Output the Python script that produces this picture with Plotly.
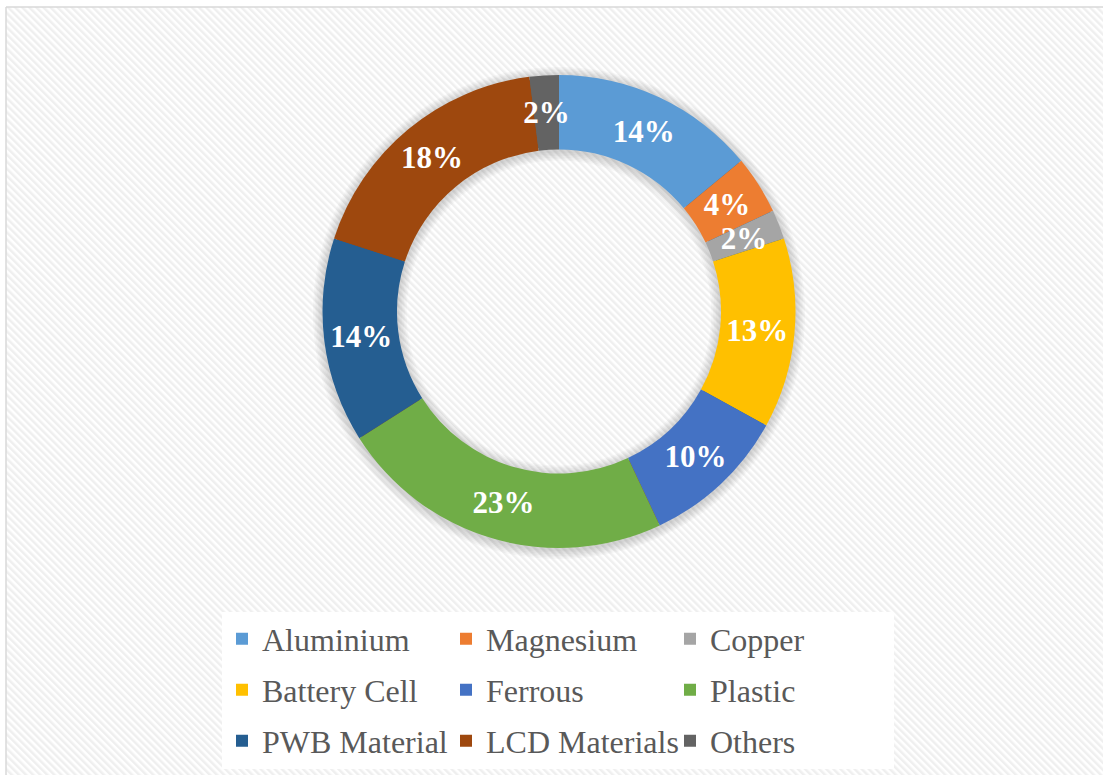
import base64
import plotly.graph_objects as go

# Material composition shares (percent)
materials = ["Aluminium", "Magnesium", "Copper", "Battery Cell", "Ferrous",
             "Plastic", "PWB Material", "LCD Materials", "Others"]
shares = [14, 4, 2, 13, 10, 23, 14, 18, 2]
colors = ["#5B9BD5", "#ED7D31", "#A5A5A5", "#FFC000", "#4472C4",
          "#70AD47", "#255E91", "#9E480E", "#636363"]

W, H = 1103, 775
ML, PW = 222, 700          # left margin and plot-area width (px)
CX, CY = 559, 311.5        # donut centre (px)
R_OUT, R_IN = 236.5, 162   # donut radii (px)
R_MID = 199                # radius where the percentage labels sit (px)
R_LBL = 210                # outer radius of the thin label ring (px)
WIDE = 10                  # slices at least this big hold their own label

LABEL_FONT = dict(family="Liberation Serif", size=31, color="white", weight="bold")


def px_x(v):
    return (v - ML) / PW


def px_y(v):
    return 1 - v / H


def domain(r, cx=CX, cy=CY):
    return dict(x=[px_x(cx - r), px_x(cx + r)], y=[px_y(cy + r), px_y(cy - r)])


pct = [f"{v}%" for v in shares]
wide_text = [t if v >= WIDE else "" for t, v in zip(pct, shares)]
narrow_text = [t if v < WIDE else "" for t, v in zip(pct, shares)]

fig = go.Figure()

# soft shadow around the ring, built from faint concentric rings
for k in range(1, 7):
    d = 1.6 * k
    ro, ri = R_OUT + d, R_IN - d
    fig.add_trace(go.Pie(
        values=[1], labels=[" "], hole=ri / ro, domain=domain(ro, cy=CY + 1.5),
        marker=dict(colors=["rgba(0,0,0,0.028)"], line=dict(width=0)),
        textinfo="none", hoverinfo="skip", showlegend=False, sort=False,
    ))

# legend rows: three slices per row, each row in its own legend,
# drawn slightly inside the main ring so the donut hides them
rows = ["legend", "legend2", "legend3"]
for i, leg in enumerate(rows):
    sl = slice(3 * i, 3 * i + 3)
    fig.add_trace(go.Pie(
        labels=materials[sl], values=shares[sl], legend=leg,
        hole=(R_IN + 3) / (R_OUT - 3), domain=domain(R_OUT - 3),
        sort=False, direction="clockwise",
        marker=dict(colors=colors[sl], line=dict(width=0)),
        textinfo="none", hoverinfo="skip",
    ))

# main donut with labels for the wide slices
fig.add_trace(go.Pie(
    labels=materials, values=shares, hole=R_IN / R_OUT, domain=domain(R_OUT),
    sort=False, direction="clockwise", rotation=0, showlegend=False,
    marker=dict(colors=colors, line=dict(width=0)),
    text=wide_text, texttemplate="%{text}", textposition="inside",
    insidetextorientation="horizontal", insidetextfont=LABEL_FONT,
    hovertemplate="%{label}: %{value}%<extra></extra>",
))

# labels for the narrow slices, kept on the mid-band radius by a thin clear ring
fig.add_trace(go.Pie(
    labels=materials, values=shares, hole=2 * R_MID / R_LBL - 1,
    domain=domain(R_LBL), sort=False, direction="clockwise", rotation=0,
    marker=dict(colors=["rgba(0,0,0,0)"] * len(materials), line=dict(width=0)),
    text=narrow_text, texttemplate="%{text}", textposition="inside",
    insidetextorientation="horizontal", insidetextfont=LABEL_FONT,
    hoverinfo="skip", showlegend=False,
))

# diagonal hatch backdrop
hatch_svg = (
    "<svg xmlns='http://www.w3.org/2000/svg' width='1097' height='768'>"
    "<defs><pattern id='p' width='5' height='5' patternUnits='userSpaceOnUse' "
    "patternTransform='rotate(-45)'>"
    "<rect width='5' height='5' fill='#ffffff'/>"
    "<rect width='2.5' height='5' fill='#efefef'/></pattern></defs>"
    "<rect width='100%' height='100%' fill='url(#p)'/></svg>"
)
hatch_uri = "data:image/svg+xml;base64," + base64.b64encode(hatch_svg.encode()).decode()

legend_style = dict(
    orientation="h", x=0, xanchor="left", yanchor="top",
    bgcolor="white", borderwidth=0,
    entrywidth=179, entrywidthmode="pixels",
    font=dict(family="Liberation Serif", size=32, color="#595959"),
)
row_tops = [611.5, 662.5, 713.5]

fig.update_layout(
    width=W, height=H,
    margin=dict(l=ML, r=W - ML - PW, t=0, b=0, pad=0),
    paper_bgcolor="white", plot_bgcolor="rgba(0,0,0,0)",
    uniformtext=dict(minsize=31, mode="show"),
    images=[dict(source=hatch_uri, xref="paper", yref="paper",
                 x=px_x(6), y=px_y(7), sizex=(W - 6) / PW, sizey=(H - 7) / H,
                 xanchor="left", yanchor="top", sizing="stretch", layer="below")],
    shapes=[
        dict(type="line", xref="paper", yref="paper", x0=px_x(6), x1=px_x(W + 5),
             y0=px_y(7), y1=px_y(7), line=dict(color="#d9d9d9", width=1.5)),
        dict(type="line", xref="paper", yref="paper", x0=px_x(6), x1=px_x(6),
             y0=px_y(7), y1=px_y(H + 5), line=dict(color="#d9d9d9", width=1.5)),
    ],
    legend=dict(legend_style, y=px_y(row_tops[0])),
    legend2=dict(legend_style, y=px_y(row_tops[1])),
    legend3=dict(legend_style, y=px_y(row_tops[2])),
)

fig.write_html("out.html")
